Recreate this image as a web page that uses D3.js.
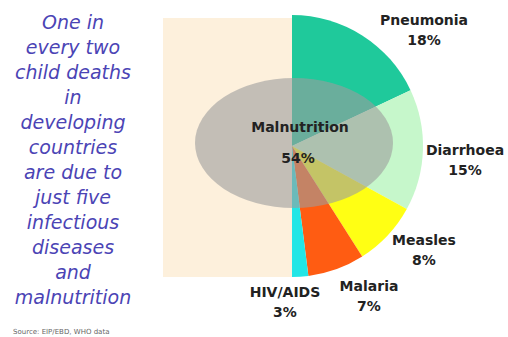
<!doctype html>
<html lang="en">
<head>
  <meta charset="utf-8">
  <title>Child deaths in developing countries</title>
  <style>
  body {
    margin: 0;
    background: #fff;
  }
  .caption {
    font-family: "DejaVu Sans", Verdana, sans-serif;
    font-style: italic;
    font-size: 19px;
    fill: #4b44b5;
  }
  .lbl {
    font-family: "DejaVu Sans", Verdana, sans-serif;
    font-weight: bold;
    font-size: 14px;
    fill: #222;
  }
  .src {
    font-family: "DejaVu Sans", sans-serif;
    font-size: 7px;
    fill: #666;
  }
  </style>
  <script src="https://d3js.org/d3.v7.min.js"></script>
</head>
<body>
<div id="chart"></div>
<script>
// data
var causes = ["Pneumonia", "Diarrhoea", "Measles", "Malaria", "HIV/AIDS"];
var shares = [18, 15, 8, 7, 3];
var malnutritionLabel = "Malnutrition";
var malnutritionShare = 54;
var captionLines = ["One in", "every two", "child deaths", "in", "developing",
  "countries", "are due to", "just five", "infectious", "diseases", "and", "malnutrition"];
var sourceText = "Source: EIP/EBD, WHO data";

// layout (not data)
var W = 508, H = 337;
var cx = 292, cy = 146, R = 131;
var sliceColors = ["#1fc99b", "#c6f7cb", "#ffff14", "#ff5c12", "#22e6e6"];
// label anchors for each slice (x, y of first line)
var labelAnchors = [[424, 20], [465, 150], [424, 240], [369, 286], [285, 292]];

var svg = d3.select("#chart").append("svg")
  .attr("width", W)
  .attr("height", H);

var color = d3.scaleOrdinal().domain(causes).range(sliceColors);

var pieData = causes.map(function(c, i) { return {cause: c, value: shares[i]}; });
var total = d3.sum(shares);

var pie = d3.pie()
  .sort(null)
  .value(function(d) { return d.value; })
  .startAngle(0)
  .endAngle(2 * Math.PI * total / 100);

var arc = d3.arc().innerRadius(0).outerRadius(R);

var g = svg.append("g").attr("transform", "translate(" + cx + "," + cy + ")");

g.selectAll("path")
  .data(pie(pieData))
  .enter()
  .append("path")
  .attr("d", arc)
  .style("fill", function(d) { return color(d.data.cause); });

// beige half panel on the left (covers anything past 6 o'clock)
svg.append("rect")
  .attr("x", 163)
  .attr("y", cy - R + 3)
  .attr("width", cx - 163)
  .attr("height", 2 * R - 3)
  .style("fill", "#fdf0dc");

// malnutrition ellipse, see-through
svg.append("ellipse")
  .attr("cx", 294)
  .attr("cy", 143)
  .attr("rx", 99)
  .attr("ry", 65)
  .style("fill", "#9c9c9c")
  .style("opacity", 0.6);

svg.append("text").attr("class", "lbl")
  .attr("x", 300).attr("y", 127)
  .attr("text-anchor", "middle").attr("dominant-baseline", "central")
  .text(malnutritionLabel);
svg.append("text").attr("class", "lbl")
  .attr("x", 298).attr("y", 158)
  .attr("text-anchor", "middle").attr("dominant-baseline", "central")
  .text(malnutritionShare + "%");

// slice labels
var labels = svg.selectAll(".slab")
  .data(pieData)
  .enter()
  .append("g")
  .attr("class", "slab")
  .attr("transform", function(d, i) { return "translate(" + labelAnchors[i][0] + "," + labelAnchors[i][1] + ")"; });

labels.append("text").attr("class", "lbl")
  .attr("text-anchor", "middle").attr("dominant-baseline", "central")
  .text(function(d) { return d.cause; });
labels.append("text").attr("class", "lbl")
  .attr("y", 20)
  .attr("text-anchor", "middle").attr("dominant-baseline", "central")
  .text(function(d) { return d.value + "%"; });

// caption on the left
svg.selectAll(".caption")
  .data(captionLines)
  .enter()
  .append("text")
  .attr("class", "caption")
  .attr("x", 73)
  .attr("y", function(d, i) { return 22 + i * 25; })
  .attr("text-anchor", "middle")
  .attr("dominant-baseline", "central")
  .text(function(d) { return d; });

svg.append("text").attr("class", "src")
  .attr("x", 13).attr("y", 334)
  .text(sourceText);
</script>
</body>
</html>
